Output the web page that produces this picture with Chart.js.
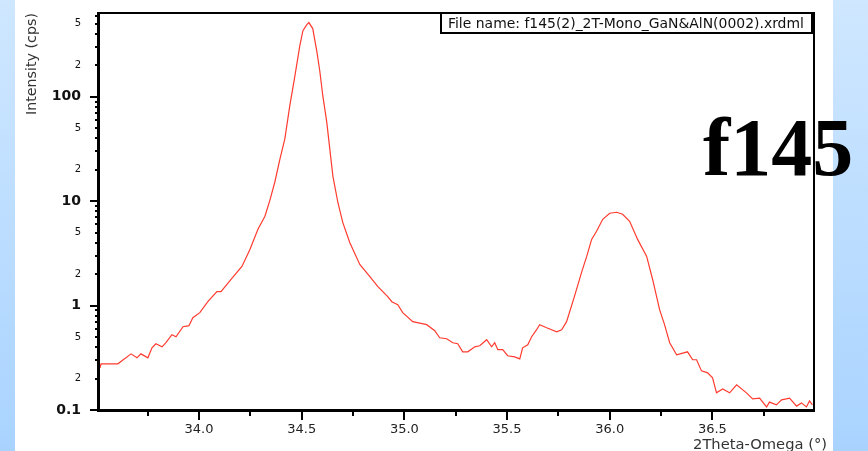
<!DOCTYPE html>
<html>
<head>
<meta charset="utf-8">
<script src="https://cdn.jsdelivr.net/npm/chart.js@4.4.1/dist/chart.umd.min.js"></script>
<style>
  html, body { margin:0; padding:0; }
  body { width:868px; height:451px; overflow:hidden; position:relative;
         background: linear-gradient(to bottom, #cfe7ff, #a9d3ff); }
  #white { position:absolute; left:15px; top:0; width:818px; height:451px; background:#fff; }
  #c { position:absolute; left:0; top:0; }
</style>
</head>
<body>
<div id="white"></div>
<canvas id="c" width="868" height="451"></canvas>
<script>
// ---- data ----
const twoTheta = [
 33.518,33.523,33.605,33.669,33.698,33.717,33.751,33.771,33.790,33.820,33.839,33.868,33.888,33.922,33.951,33.970,
 34.004,34.043,34.087,34.107,34.160,34.209,34.248,34.287,34.321,34.345,34.369,34.394,34.418,34.442,34.467,34.491,
 34.506,34.525,34.535,34.554,34.574,34.588,34.603,34.622,34.637,34.652,34.676,34.700,34.734,34.783,34.832,34.871,
 34.919,34.939,34.968,34.992,35.041,35.109,35.148,35.172,35.206,35.236,35.260,35.284,35.309,35.343,35.367,35.401,
 35.425,35.440,35.455,35.479,35.503,35.537,35.562,35.576,35.601,35.620,35.644,35.659,35.693,35.742,35.766,35.790,
 35.828,35.863,35.888,35.912,35.936,35.966,36.000,36.034,36.063,36.097,36.136,36.180,36.209,36.243,36.267,36.292,
 36.326,36.379,36.404,36.423,36.447,36.477,36.501,36.520,36.550,36.584,36.618,36.666,36.696,36.730,36.764,36.778,
 36.812,36.837,36.876,36.910,36.934,36.958,36.973,36.987];
const intensity = [
 0.254,0.277,0.277,0.345,0.316,0.345,0.316,0.394,0.431,0.403,0.441,0.526,0.503,0.628,0.642,0.767,
 0.857,1.09,1.36,1.36,1.82,2.37,3.45,5.38,7.18,10.2,15.2,25.3,39.5,81.9,159,309,
 431,492,515,451,271,178,102,57.5,31.6,17.4,9.78,6.28,4.03,2.48,1.90,1.52,
 1.22,1.09,1.02,0.857,0.702,0.657,0.575,0.492,0.482,0.441,0.431,0.361,0.361,0.403,0.412,0.471,
 0.403,0.441,0.378,0.378,0.331,0.323,0.309,0.394,0.422,0.503,0.588,0.657,0.614,0.562,0.588,0.702,
 1.22,2.08,2.96,4.31,5.15,6.71,7.67,7.84,7.50,6.42,4.31,2.96,1.78,0.916,0.657,0.441,
 0.338,0.361,0.303,0.303,0.237,0.227,0.203,0.146,0.159,0.146,0.174,0.146,0.128,0.130,0.107,0.119,
 0.112,0.125,0.130,0.109,0.117,0.107,0.122,0.112];

const xMin = 33.513, xMax = 36.99;
const yMin = 0.1, yMax = 650;
const xTickValues = [33.75,34.0,34.25,34.5,34.75,35.0,35.25,35.5,35.75,36.0,36.25,36.5,36.75];
const xLabeledTicks = [34.0,34.5,35.0,35.5,36.0,36.5];
const yDecades = [0.1,1,10,100];
const yMinorMultipliers = [2,3,4,5,6,7,8,9];
const yLabeledMultipliers = [2,5];
const yDecadeLabels = ['0.1','1','10','100'];
const xTitle = '2Theta-Omega (°)';
const yTitle = 'Intensity (cps)';
const fileLabel = 'File name: f145(2)_2T-Mono_GaN&AlN(0002).xrdml';
const bigLabel = 'f145';

// ---- helpers ----
const yTickList = [];
yDecades.forEach(d => {
  yTickList.push({value:d, decade:true});
  yMinorMultipliers.forEach(m => { const v = +(d*m).toPrecision(6); if (v <= yMax) yTickList.push({value:v, decade:false, mult:m}); });
});
function tickInfo(v){ return yTickList.find(t => Math.abs(t.value - v) < 1e-9 * Math.max(1,v)); }
const FAM = "'DejaVu Sans', sans-serif";
function fitSize(ctx, text, width, weight, family){
  ctx.font = weight + ' 100px ' + family;
  return 100 * width / ctx.measureText(text).width;
}

const points = twoTheta.map((x,i)=>({x:x, y:intensity[i]}));

const decor = {
  id:'decor',
  afterDraw(chart){
    const ctx = chart.ctx, a = chart.chartArea;
    const xs = chart.scales.x, ys = chart.scales.y;
    ctx.save();
    // big label
    ctx.fillStyle = '#000';
    ctx.font = "bold 82px 'Liberation Serif', serif";
    ctx.textBaseline = 'alphabetic'; ctx.textAlign = 'left';
    ctx.fillText(bigLabel, 703, 175);
    // file name box
    ctx.fillStyle = '#fff';
    ctx.fillRect(440, 12, 372, 21);
    ctx.strokeStyle = '#000'; ctx.lineWidth = 2;
    ctx.strokeRect(441, 13, 371, 20);
    let s = fitSize(ctx, fileLabel, 356, 'normal', FAM);
    ctx.font = s.toFixed(2) + 'px ' + FAM;
    ctx.fillStyle = '#111';
    ctx.fillText(fileLabel, 448, 28);
    // axis titles
    s = fitSize(ctx, yTitle, 102, 'normal', FAM);
    ctx.font = s.toFixed(2) + 'px ' + FAM;
    ctx.fillStyle = '#333';
    ctx.save();
    ctx.translate(36, 115); ctx.rotate(-Math.PI/2);
    ctx.textAlign = 'left'; ctx.textBaseline = 'alphabetic';
    ctx.fillText(yTitle, 0, 0);
    ctx.restore();
    s = fitSize(ctx, xTitle, 134, 'normal', FAM);
    ctx.font = s.toFixed(2) + 'px ' + FAM;
    ctx.textAlign = 'right';
    ctx.fillText(xTitle, 827, 449);
    // tick marks
    ctx.strokeStyle = '#000'; ctx.lineWidth = 2;
    ctx.beginPath();
    yTickList.forEach(t => {
      const py = Math.round(ys.getPixelForValue(t.value));
      const len = t.decade ? 9 : 4;
      ctx.moveTo(a.left - len, py); ctx.lineTo(a.left, py);
    });
    xTickValues.forEach(v => {
      const px = Math.round(xs.getPixelForValue(v));
      const major = xLabeledTicks.some(m => Math.abs(m - v) < 1e-9);
      const len = major ? 10 : 6;
      ctx.moveTo(px, a.bottom); ctx.lineTo(px, a.bottom + len);
    });
    ctx.stroke();
    // frame
    ctx.lineWidth = 2;
    ctx.beginPath();
    ctx.moveTo(a.left, a.top+1); ctx.lineTo(a.right+1, a.top+1);
    ctx.moveTo(a.right+1, a.top); ctx.lineTo(a.right+1, a.bottom);
    ctx.stroke();
    ctx.lineWidth = 3;
    ctx.beginPath();
    ctx.moveTo(a.left-0.5, a.top); ctx.lineTo(a.left-0.5, a.bottom+1.5);
    ctx.moveTo(a.left-2, a.bottom+0.5); ctx.lineTo(a.right+2, a.bottom+0.5);
    ctx.stroke();
    ctx.restore();
  }
};

new Chart(document.getElementById('c'), {
  type:'line',
  data:{ datasets:[{ data: points, borderColor:'#ff3b2f', borderWidth:1.2, pointRadius:0, tension:0, fill:false }] },
  options:{
    responsive:false, animation:false, devicePixelRatio:1,
    layout:{ padding:{ top:12, right:55, left:0, bottom:0 } },
    plugins:{ legend:{display:false}, tooltip:{enabled:false} },
    scales:{
      x:{
        type:'linear', min:xMin, max:xMax,
        afterFit(s){ s.height = 41; s.paddingLeft = 0; s.paddingRight = 0; },
        afterBuildTicks(s){ s.ticks = xTickValues.map(v=>({value:v})); },
        grid:{ display:false, drawTicks:false },
        border:{ display:false },
        ticks:{ autoSkip:false, maxRotation:0, padding:12, color:'#222',
          font:{ family:FAM, size:13 },
          callback(v){ return xLabeledTicks.some(m=>Math.abs(m-v)<1e-9) ? v.toFixed(1) : ''; } }
      },
      y:{
        type:'logarithmic', min:yMin, max:yMax,
        afterFit(s){ s.width = 99; s.paddingTop = 0; s.paddingBottom = 0; },
        afterBuildTicks(s){ s.ticks = yTickList.map(t=>({value:t.value, major:t.decade})); },
        grid:{ display:false, drawTicks:false },
        border:{ display:false },
        ticks:{ autoSkip:false, padding:18, color:'#111',
          font(c){ const t = c.tick ? tickInfo(c.tick.value) : null;
            return (t && t.decade) ? {family:FAM, size:14, weight:'bold'} : {family:FAM, size:10}; },
          callback(v){ const t = tickInfo(v); if (!t) return '';
            if (t.decade) return yDecadeLabels[yDecades.findIndex(d=>Math.abs(d-v)<1e-9*Math.max(1,v))];
            return yLabeledMultipliers.includes(t.mult) ? String(t.mult) : ''; } }
      }
    }
  },
  plugins:[decor]
});
</script>
</body>
</html>
